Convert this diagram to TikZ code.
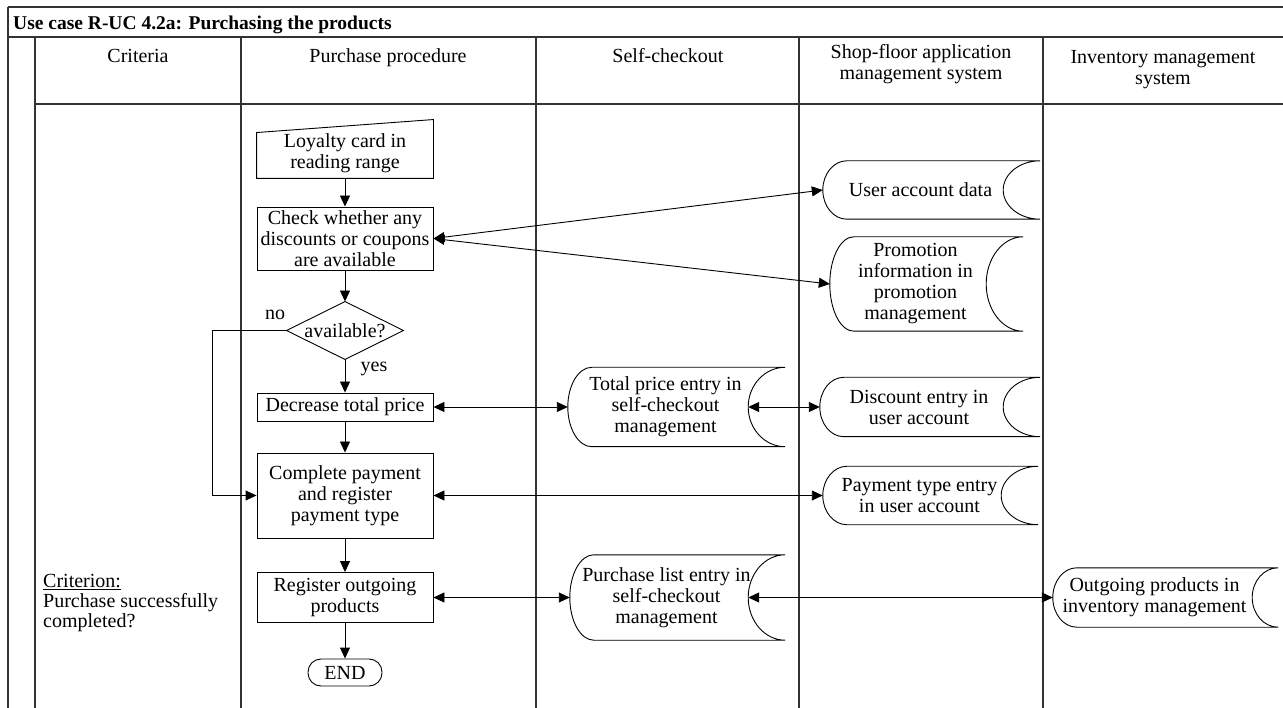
\documentclass[tikz,border=0pt]{standalone}
\usepackage{fontspec}
\setmainfont{Liberation Serif}
\usetikzlibrary{arrows.meta,calc}

% data store outline round a node: convex left side, concave right side
\newcommand{\datastore}[2][37]{%
  \draw[line width=0.9pt] let \p1=(#2.north west), \p2=(#2.south east), \n1={(\y1-\y2)/2} in
    (\x1+24pt,\y1) -- (\x2+22pt,\y1)
    arc[start angle=90, end angle=270, x radius=#1pt, y radius=\n1]
    -- (\x1+24pt,\y2)
    arc[start angle=270, end angle=90, x radius=24pt, y radius=\n1] -- cycle;
}

\begin{document}
\begin{tikzpicture}[x=1pt, y=-1pt,
    font=\fontsize{20}{21}\selectfont,
    grid/.style={draw=black!80, line width=1.3pt},
    head/.style={align=center, inner sep=0pt},
    proc/.style={draw, line width=0.9pt, minimum width=176pt, inner sep=0pt, align=center},
    store/.style={inner sep=0pt, align=center},
    lab/.style={inner sep=0pt, anchor=base},
    flow/.style={line width=0.9pt, -{Triangle[length=11pt,width=10pt]}},
    both/.style={line width=0.9pt, {Triangle[length=11pt,width=10pt]}-{Triangle[length=11pt,width=10pt]}},
  ]
  \useasboundingbox (0,0) rectangle (1283,708);

  % ---------------- table ----------------------------------------------------
  \draw[grid, line width=2pt] (8,7) -- (1283,7);
  \draw[grid] (8,37) -- (1283,37);
  \draw[grid] (35,104) -- (1283,104);
  \draw[grid] (8,7) -- (8,708);
  \foreach \x in {35,241,536,799,1043}
    \draw[grid] (\x,37) -- (\x,708);

  \node[anchor=base west, inner sep=0pt, font=\bfseries\fontsize{19.5}{21}\selectfont] (title) at (13,30)
       {Use case R-UC 4.2a: Purchasing the products};

  % ---------------- column heads ---------------------------------------------
  \node[lab] (hcrit) at (138,63)  {Criteria};
  \node[lab] (hproc) at (388,63)  {Purchase procedure};
  \node[lab] (hself) at (668,63)  {Self-checkout};
  \node[head] (hshop) at (921,64)  {Shop-floor application\\management system};
  \node[head] (hinv)  at (1163,70) {Inventory management\\system};

  % ---------------- purchase procedure ---------------------------------------
  \node[proc, draw=none, minimum height=50pt] (loyal) at (345,153) {Loyalty card in\\reading range};
  \draw[line width=0.9pt] ([yshift=-5pt]loyal.north west) -- ([yshift=8pt]loyal.north east)
        -- (loyal.south east) -- (loyal.south west) -- cycle;
  \node[proc, minimum height=63pt] (check) at (345,238.5) {Check whether any\\discounts or coupons\\are available};
  \node[proc, draw=none, minimum width=116pt, minimum height=57pt] (avail) at (345,330.5) {available?};
  \draw[line width=0.9pt] (avail.west) -- (avail.north) -- (avail.east) -- (avail.south) -- cycle;
  \node[proc, minimum height=28pt] (dec) at (345,407) {Decrease total price};
  \node[proc, minimum height=85pt] (pay) at (345,495.5) {Complete payment\\and register\\payment type};
  \node[proc, minimum height=50pt] (reg) at (345,597.5) {Register outgoing\\products};
  \node[proc, rounded corners=13pt, minimum width=74pt, minimum height=27pt] (done) at (345,672.5) {END};

  \node[lab] (no)  at (275,320) {no};
  \node[lab] (yes) at (374,372) {yes};

  % ---------------- data stores ----------------------------------------------
  \node[store, minimum width=195pt, minimum height=58pt] (user)  at (920.5,190)  {User account data};
  \node[store, minimum width=171pt, minimum height=94pt] (promo) at (915.5,284)  {Promotion\\information in\\promotion\\management};
  \node[store, minimum width=195pt, minimum height=79pt] (total) at (665.5,407)  {Total price entry in\\self-checkout\\management};
  \node[store, minimum width=198pt, minimum height=59pt] (disc)  at (919,407)    {Discount entry in\\user account};
  \node[store, minimum width=193pt, minimum height=58pt] (ptype) at (919.5,495.5) {Payment type entry\\in user account};
  \node[store, minimum width=193pt, minimum height=85pt] (plist) at (666.5,597.5) {Purchase list entry in\\self-checkout\\management};
  \node[store, minimum width=203pt, minimum height=59pt] (outg)  at (1154.5,597.5) {Outgoing products in\\inventory management};
  \foreach \s in {user,promo,total,disc,ptype,plist}
    \datastore{\s};
  \datastore[26]{outg};

  % ---------------- criterion ------------------------------------------------
  \node[anchor=north west, align=left, inner sep=0pt, font=\fontsize{20}{20}\selectfont] (crit) at (43,574)
       {\underline{Criterion:}\\Purchase successfully\\completed?};

  % ---------------- connectors -----------------------------------------------
  \draw[flow] (loyal) -- (check);
  \draw[flow] (check) -- (avail);
  \draw[flow] (avail) -- (dec);
  \draw[flow] (dec) -- (pay);
  \draw[flow] (pay) -- (reg);
  \draw[flow] (reg) -- (done);
  \draw[flow] (avail.west) -- ++(-74,0) |- (pay.west);

  \draw[both] (check.east) -- (user.west);
  \draw[both] (check.east) -- (promo.west);
  \draw[both] (dec) -- (total);
  \draw[both] ([xshift=-15pt]total.east) -- (disc.west);
  \draw[both] (pay) -- (ptype);
  \draw[both] (reg) -- (plist);
  \draw[both] ([xshift=-15pt]plist.east) -- (outg.west);
\end{tikzpicture}
\end{document}
